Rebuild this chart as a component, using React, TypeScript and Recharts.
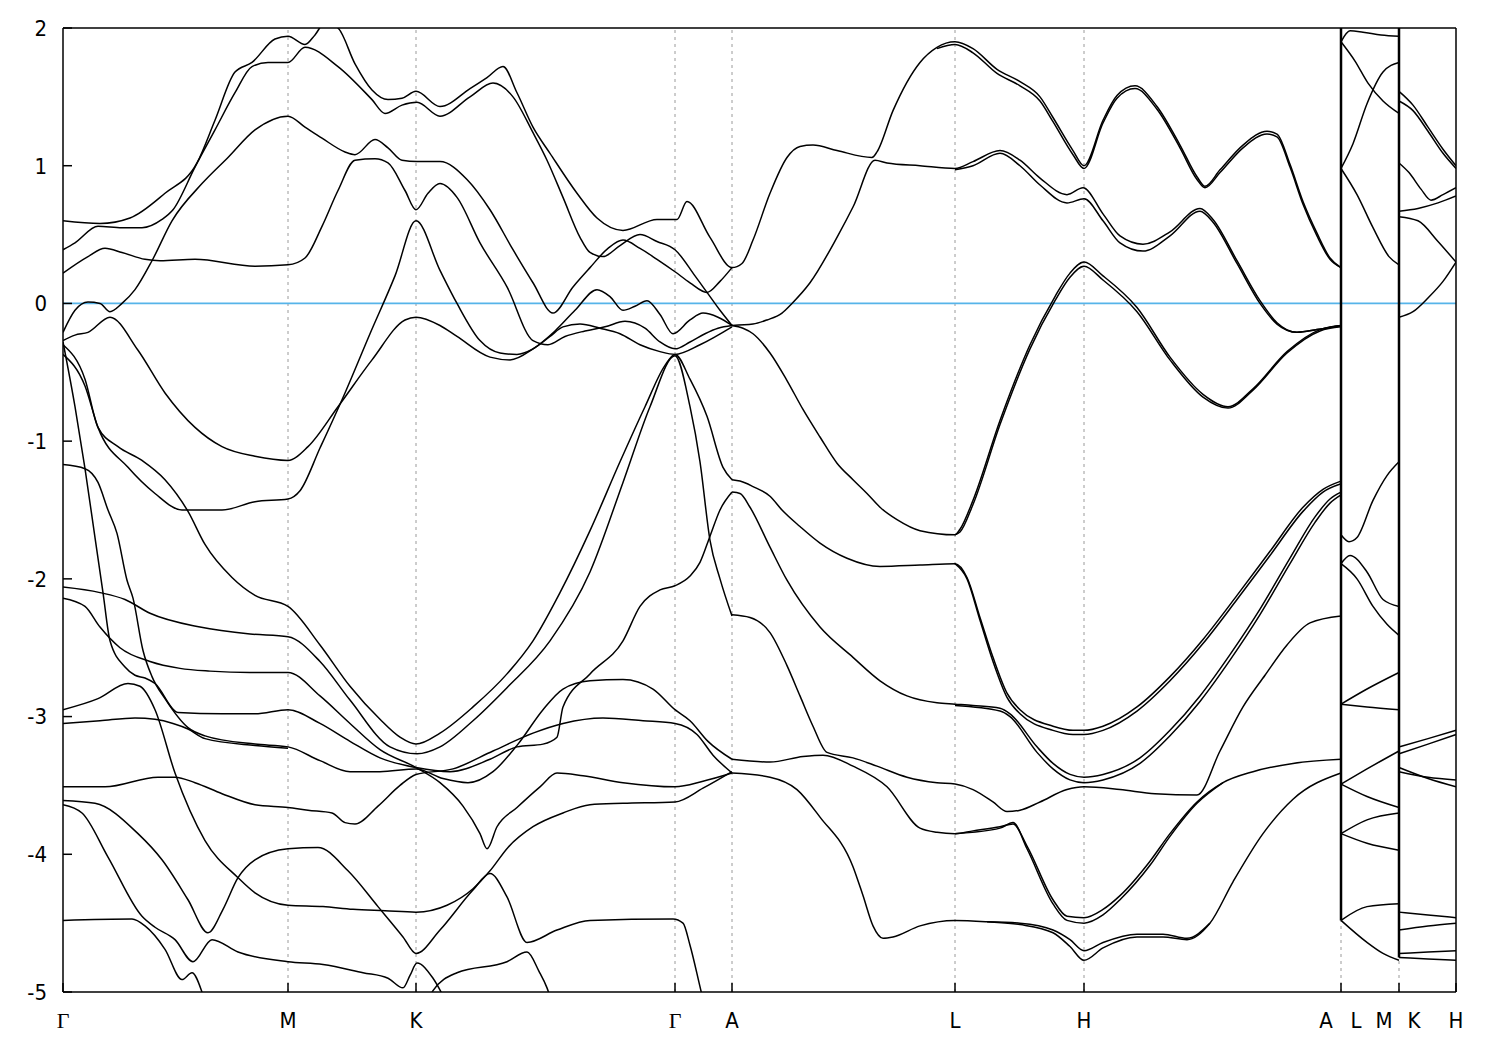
import React from 'react';
import { LineChart, Line, XAxis, YAxis, ReferenceLine } from 'recharts';

type Pt = [number, number];

// k-path coordinate (arbitrary path-length units) of the high-symmetry points
const K_POINTS = [0, 225, 353, 612, 669, 892, 1021, 1278, 1336, 1393];
const K_LABELS = ['Γ', 'M', 'K', 'Γ', 'A', 'L', 'H', 'A|L', 'M|K', 'H'];
const E_TICKS = [-5, -4, -3, -2, -1, 0, 1, 2];
const E_RANGE: [number, number] = [-5, 2];
const K_RANGE: [number, number] = [0, 1393];

// ---- bands above the Fermi level ----
const P1: Pt[] = [[0,.60],[37,.58],[67,.62],[102,.80],[134,1.02],[152,1.33],[172,1.68],[189,1.75],[212,1.92],[225,1.94],[242,1.88],[252,1.95],[262,2.04],[275,2.0],[292,1.74],[309,1.55],[325,1.48],[339,1.49],[353,1.54],[377,1.43],[407,1.56],[424,1.64],[440,1.72],[454,1.53],[470,1.28],[487,1.09],[514,.80],[534,.62],[560,.53],[594,.61],[614,.61],[624,.74],[647,.48],[669,.26],[679,.29],[690,.46],[707,.80],[724,1.06],[737,1.14],[750,1.15],[774,1.11],[809,1.06],[814,1.10],[830,1.40],[857,1.75],[874,1.86],[892,1.90],[910,1.85],[934,1.70],[957,1.61],[977,1.50],[990,1.35],[1010,1.11],[1021,1.0],[1040,1.33],[1054,1.51],[1072,1.58],[1094,1.43],[1117,1.15],[1134,.92],[1142,.85],[1157,.97],[1180,1.15],[1204,1.25],[1214,1.23],[1227,1.01],[1240,.74],[1254,.51],[1267,.33],[1278,.26]];
const P1B: Pt[] = [[874,1.85],[892,1.88],[910,1.82],[934,1.67],[957,1.58],[977,1.47],[990,1.32],[1010,1.08],[1021,.98],[1040,1.31],[1054,1.49],[1072,1.56],[1094,1.41],[1117,1.13],[1134,.90],[1142,.84],[1157,.95],[1180,1.13],[1204,1.23],[1214,1.21],[1227,.99],[1240,.72],[1254,.49],[1267,.32],[1278,.26]];
const P2: Pt[] = [[0,.39],[12,.44],[35,.56],[59,.55],[79,.55],[99,.61],[110,.68],[132,.99],[152,1.26],[172,1.53],[189,1.72],[205,1.75],[225,1.75],[242,1.86],[275,1.72],[309,1.48],[322,1.38],[339,1.44],[354,1.46],[377,1.36],[407,1.50],[430,1.60],[450,1.50],[470,1.24],[484,1.04],[500,.77],[517,.48],[527,.37],[540,.34],[557,.42],[577,.50],[594,.45],[612,.39],[632,.20],[644,.08],[657,-.05],[669,-.16]];
const P3: Pt[] = [[0,.22],[25,.34],[42,.40],[59,.37],[82,.32],[97,.31],[132,.32],[192,.27],[225,.28],[242,.33],[259,.56],[275,.82],[292,1.04],[312,1.05],[325,1.02],[342,.82],[353,.68],[365,.80],[377,.87],[394,.77],[417,.44],[444,.12],[470,-.27],[485,-.30],[502,-.24],[522,-.20],[542,-.17],[562,-.13],[582,-.18],[597,-.28],[612,-.33],[627,-.28],[642,-.22],[655,-.18],[669,-.16]];
const P4: Pt[] = [[0,-.21],[12,-.05],[25,.01],[37,.0],[47,-.06],[59,.0],[72,.1],[89,.31],[109,.60],[139,.87],[165,1.06],[192,1.26],[225,1.36],[242,1.28],[259,1.20],[282,1.10],[292,1.08],[312,1.19],[325,1.13],[339,1.04],[354,1.03],[377,1.03],[404,.90],[427,.68],[450,.39],[470,.15],[490,-.07],[510,.12],[527,.26],[545,.40],[560,.46],[577,.40],[594,.32],[612,.23],[627,.15],[644,.08],[657,.16],[669,.26]];
const P5: Pt[] = [[0,-.27],[12,-.23],[25,-.21],[47,-.10],[75,-.34],[102,-.65],[132,-.90],[159,-1.04],[192,-1.11],[225,-1.14],[245,-1.04],[275,-.75],[309,-.41],[342,-.12],[353,-.10],[377,-.16],[394,-.24],[427,-.39],[447,-.41],[470,-.33],[492,-.20],[512,-.05],[534,.10],[547,.05],[560,-.05],[572,-.02],[584,.02],[597,-.08],[610,-.22],[627,-.12],[640,-.07],[655,-.10],[669,-.16]];
const U2: Pt[] = [[669,-.16],[690,-.15],[704,-.12],[719,-.07],[729,.0],[747,.15],[774,.48],[790,.70],[812,1.04],[824,1.02],[857,1.0],[892,.98],[910,1.03],[937,1.11],[957,1.04],[977,.91],[1004,.79],[1020,.84],[1040,.65],[1057,.49],[1080,.43],[1107,.52],[1137,.69],[1150,.61],[1174,.31],[1197,.02],[1214,-.14],[1234,-.21],[1254,-.19],[1278,-.16]];
const U2B: Pt[] = [[892,.97],[910,1.0],[937,1.09],[957,1.0],[977,.86],[1004,.73],[1021,.76],[1040,.60],[1057,.44],[1080,.38],[1107,.49],[1137,.67],[1150,.59],[1174,.29],[1197,.0],[1214,-.15],[1234,-.21],[1254,-.19],[1278,-.16]];
const V1: Pt[] = [[669,-.16],[680,-.18],[690,-.22],[707,-.36],[724,-.56],[740,-.77],[757,-.97],[774,-1.16],[790,-1.28],[804,-1.38],[817,-1.48],[834,-1.57],[857,-1.65],[892,-1.68],[897,-1.64],[910,-1.43],[937,-.85],[967,-.30],[992,.05],[1007,.22],[1021,.30],[1040,.20],[1074,-.03],[1107,-.39],[1140,-.66],[1165,-.75],[1190,-.62],[1224,-.35],[1257,-.19],[1278,-.16]];
const V1B: Pt[] = [[892,-1.68],[897,-1.66],[910,-1.46],[937,-.88],[967,-.33],[992,.02],[1007,.19],[1021,.27],[1040,.17],[1074,-.06],[1107,-.41],[1140,-.68],[1165,-.76],[1190,-.63],[1224,-.36],[1257,-.20],[1278,-.17]];

// ---- valence bands ----
const R1: Pt[] = [[0,-.37],[22,-.60],[35,-.90],[65,-1.19],[92,-1.38],[119,-1.50],[159,-1.50],[192,-1.44],[225,-1.42],[237,-1.36],[257,-1.05],[282,-.65],[307,-.22],[332,.20],[353,.60],[377,.24],[394,.0],[417,-.27],[437,-.36],[454,-.37],[470,-.33],[487,-.24],[500,-.17],[517,-.15],[537,-.18],[557,-.22],[577,-.30],[597,-.35],[612,-.37],[637,-.30],[669,-.17]];
const R2: Pt[] = [[0,-.30],[22,-.55],[35,-.90],[55,-1.04],[79,-1.14],[102,-1.28],[125,-1.51],[142,-1.75],[169,-1.99],[192,-2.12],[225,-2.2],[257,-2.48],[287,-2.78],[317,-3.02],[337,-3.15],[353,-3.2],[377,-3.12],[410,-2.93],[444,-2.69],[470,-2.45],[497,-2.1],[527,-1.65],[557,-1.15],[582,-.75],[602,-.45],[612,-.37],[627,-.55],[644,-.82],[660,-1.19],[669,-1.28]];
const R5: Pt[] = [[0,-2.06],[37,-2.10],[62,-2.15],[87,-2.25],[137,-2.35],[187,-2.40],[225,-2.42],[257,-2.6],[287,-2.88],[327,-3.22],[354,-3.27],[377,-3.22],[410,-3.03],[444,-2.79],[487,-2.45],[527,-1.95],[560,-1.3],[587,-.75],[612,-.38],[627,-.75],[637,-1.15],[647,-1.72],[657,-2.0],[669,-2.27]];
const R6: Pt[] = [[0,-2.14],[22,-2.2],[37,-2.35],[57,-2.5],[87,-2.6],[117,-2.65],[147,-2.67],[187,-2.68],[225,-2.68],[257,-2.85],[287,-3.05],[317,-3.24],[353,-3.37],[377,-3.48],[400,-3.65],[417,-3.85],[424,-3.96],[434,-3.80],[454,-3.66],[477,-3.51],[494,-3.41],[520,-3.43],[560,-3.48],[612,-3.51],[640,-3.47],[669,-3.41]];
const S7: Pt[] = [[0,-.28],[12,-.75],[22,-1.2],[32,-1.7],[40,-2.1],[47,-2.45],[62,-2.64],[72,-2.70],[82,-2.72],[92,-2.76],[115,-2.97],[159,-2.98],[192,-2.98],[225,-2.95],[257,-3.05],[287,-3.18],[317,-3.30],[353,-3.37],[387,-3.40],[427,-3.31],[454,-3.22],[480,-3.2],[494,-3.15],[500,-2.93],[527,-2.69],[560,-2.45],[577,-2.2],[597,-2.08],[612,-2.05],[627,-1.98],[637,-1.88],[647,-1.69],[657,-1.5],[669,-1.37]];
const S9: Pt[] = [[0,-1.17],[22,-1.20],[35,-1.30],[45,-1.50],[54,-1.67],[64,-2.01],[70,-2.14],[80,-2.52],[89,-2.71],[102,-2.87],[125,-3.08],[142,-3.14],[192,-3.20],[225,-3.22],[257,-3.32],[287,-3.40],[317,-3.40],[353,-3.38],[380,-3.45],[405,-3.48],[430,-3.40],[455,-3.2],[480,-2.95],[500,-2.80],[527,-2.74],[560,-2.73],[590,-2.80],[612,-2.95],[627,-3.03],[645,-3.18],[669,-3.31]];
const S6: Pt[] = [[0,-3.05],[37,-3.03],[72,-3.01],[92,-3.02],[110,-3.05],[125,-3.09],[142,-3.16],[192,-3.21],[225,-3.23]];
const S2: Pt[] = [[0,-3.51],[42,-3.51],[95,-3.44],[112,-3.44],[132,-3.48],[159,-3.56],[192,-3.64],[225,-3.66],[245,-3.68],[269,-3.70],[282,-3.77],[292,-3.78],[315,-3.65],[337,-3.5],[353,-3.42],[390,-3.38],[430,-3.25],[470,-3.12],[500,-3.05],[540,-3.01],[580,-3.03],[612,-3.05],[634,-3.13],[650,-3.28],[669,-3.41]];
const S1: Pt[] = [[0,-2.95],[35,-2.87],[65,-2.76],[77,-2.78],[92,-2.95],[112,-3.41],[142,-3.90],[175,-4.17],[192,-4.28],[225,-4.37],[260,-4.38],[290,-4.40],[322,-4.41],[353,-4.42],[384,-4.37],[410,-4.25],[427,-4.12],[445,-3.95],[470,-3.8],[500,-3.7],[527,-3.64],[560,-3.63],[612,-3.62],[640,-3.52],[669,-3.40]];
const S3: Pt[] = [[0,-3.61],[32,-3.63],[75,-3.85],[99,-4.04],[125,-4.33],[145,-4.57],[160,-4.40],[175,-4.17],[192,-4.04],[225,-3.96],[255,-3.95],[285,-4.12],[315,-4.38],[340,-4.6],[353,-4.72],[377,-4.55],[410,-4.26],[427,-4.14],[444,-4.31],[464,-4.64],[494,-4.55],[527,-4.48],[610,-4.47],[620,-4.5],[627,-4.66],[640,-5.05],[650,-5.3]];
const S4: Pt[] = [[0,-3.64],[19,-3.70],[45,-4.02],[79,-4.45],[92,-4.53],[112,-4.62],[130,-4.78],[149,-4.62],[175,-4.71],[225,-4.78],[260,-4.80],[300,-4.86],[325,-4.9],[340,-4.97],[347,-4.88],[354,-4.79],[370,-4.9],[385,-5.1]];
const S5: Pt[] = [[0,-4.48],[69,-4.47],[82,-4.52],[102,-4.69],[119,-4.91],[129,-4.86],[139,-5.0],[147,-5.2]];
const S10: Pt[] = [[360,-5.2],[370,-4.99],[394,-4.86],[444,-4.78],[464,-4.71],[476,-4.85],[484,-4.97],[490,-5.1]];

// A -> L -> H -> A, lower part
const LA: Pt[] = [[669,-1.28],[677,-1.29],[690,-1.33],[707,-1.40],[719,-1.50],[737,-1.62],[757,-1.74],[784,-1.85],[817,-1.91],[857,-1.90],[892,-1.89],[904,-1.99],[917,-2.28],[930,-2.57],[944,-2.83],[957,-2.95],[990,-3.07],[1010,-3.10],[1021,-3.10],[1040,-3.07],[1074,-2.93],[1107,-2.71],[1140,-2.44],[1174,-2.12],[1207,-1.80],[1240,-1.48],[1260,-1.35],[1278,-1.29]];
const LA2: Pt[] = [[892,-1.89],[904,-2.0],[917,-2.30],[930,-2.60],[944,-2.86],[957,-2.98],[990,-3.10],[1010,-3.13],[1021,-3.13],[1040,-3.10],[1074,-2.96],[1107,-2.74],[1140,-2.47],[1174,-2.15],[1207,-1.83],[1240,-1.51],[1260,-1.37],[1278,-1.31]];
const LB: Pt[] = [[669,-1.37],[677,-1.38],[687,-1.48],[707,-1.77],[724,-2.01],[757,-2.35],[790,-2.57],[817,-2.74],[844,-2.85],[874,-2.90],[892,-2.91],[910,-2.92],[937,-2.94],[947,-2.98],[974,-3.22],[990,-3.34],[1007,-3.42],[1021,-3.44],[1040,-3.42],[1077,-3.3],[1107,-3.1],[1137,-2.85],[1167,-2.55],[1197,-2.22],[1227,-1.85],[1252,-1.55],[1267,-1.42],[1278,-1.37]];
const LB2: Pt[] = [[892,-2.92],[937,-2.96],[947,-3.0],[974,-3.26],[990,-3.38],[1007,-3.46],[1021,-3.48],[1040,-3.46],[1077,-3.34],[1107,-3.14],[1137,-2.89],[1167,-2.59],[1197,-2.26],[1227,-1.89],[1252,-1.59],[1267,-1.45],[1278,-1.39]];
const LC: Pt[] = [[669,-2.26],[687,-2.28],[707,-2.39],[724,-2.63],[737,-2.85],[750,-3.07],[764,-3.26],[790,-3.30],[814,-3.36],[844,-3.44],[874,-3.48],[892,-3.49],[910,-3.53],[930,-3.62],[944,-3.69],[957,-3.68],[977,-3.62],[1004,-3.53],[1021,-3.51],[1057,-3.53],[1092,-3.56],[1134,-3.57],[1157,-3.25],[1180,-2.93],[1202,-2.7],[1224,-2.48],[1247,-2.32],[1278,-2.27]];
const LF: Pt[] = [[669,-3.31],[707,-3.33],[740,-3.29],[760,-3.28],[790,-3.36],[824,-3.51],[857,-3.81],[874,-3.84],[892,-3.85],[910,-3.83],[937,-3.80],[950,-3.78],[964,-3.94],[990,-4.33],[1004,-4.45],[1021,-4.46],[1040,-4.40],[1057,-4.3],[1087,-4.05],[1107,-3.85],[1134,-3.62],[1160,-3.48],[1190,-3.40],[1230,-3.34],[1278,-3.31]];
const LF2: Pt[] = [[892,-3.85],[937,-3.81],[950,-3.77],[964,-3.96],[990,-4.36],[1004,-4.48],[1021,-4.50],[1040,-4.44],[1057,-4.33],[1087,-4.08],[1107,-3.87],[1134,-3.63],[1160,-3.48]];
const LE: Pt[] = [[669,-3.41],[707,-3.44],[734,-3.53],[757,-3.73],[790,-4.09],[800,-4.30],[810,-4.52],[820,-4.61],[830,-4.60],[857,-4.52],[892,-4.48],[924,-4.49],[957,-4.51],[990,-4.57],[1007,-4.67],[1021,-4.77],[1040,-4.68],[1074,-4.60],[1100,-4.60],[1124,-4.62],[1147,-4.5],[1170,-4.2],[1200,-3.85],[1230,-3.6],[1278,-3.41]];
const LE2: Pt[] = [[924,-4.49],[957,-4.50],[990,-4.55],[1007,-4.62],[1021,-4.70],[1040,-4.64],[1074,-4.58],[1100,-4.58],[1124,-4.61],[1147,-4.5]];

// L -> M (after the A|L break)
const LM: Pt[][] = [
  [[1278,1.90],[1287,1.98],[1300,1.97],[1318,1.95],[1336,1.94]],
  [[1278,1.90],[1292,1.76],[1305,1.60],[1320,1.47],[1336,1.38]],
  [[1278,.98],[1290,1.16],[1304,1.45],[1320,1.68],[1336,1.75]],
  [[1278,.98],[1294,.79],[1310,.55],[1326,.34],[1336,.28]],
  [[1278,-1.68],[1286,-1.73],[1294,-1.70],[1310,-1.43],[1324,-1.25],[1336,-1.15]],
  [[1278,-1.89],[1287,-1.83],[1304,-1.95],[1320,-2.15],[1336,-2.2]],
  [[1278,-1.89],[1294,-2.0],[1310,-2.2],[1324,-2.33],[1336,-2.41]],
  [[1278,-2.91],[1304,-2.80],[1336,-2.68]],
  [[1278,-2.91],[1304,-2.93],[1336,-2.95]],
  [[1278,-3.49],[1304,-3.38],[1336,-3.25]],
  [[1278,-3.49],[1304,-3.58],[1336,-3.66]],
  [[1278,-3.85],[1304,-3.75],[1336,-3.70]],
  [[1278,-3.85],[1304,-3.92],[1336,-3.97]],
  [[1278,-4.48],[1304,-4.38],[1336,-4.36]],
  [[1278,-4.48],[1304,-4.64],[1320,-4.72],[1336,-4.77]],
];

// K -> H (after the M|K break)
const KH: Pt[][] = [
  [[1336,1.54],[1350,1.44],[1365,1.28],[1380,1.12],[1393,1.0]],
  [[1336,1.47],[1350,1.40],[1365,1.25],[1380,1.09],[1393,.98]],
  [[1336,1.02],[1346,.95],[1358,.83],[1368,.75],[1380,.79],[1393,.84]],
  [[1336,.67],[1355,.69],[1375,.73],[1393,.78]],
  [[1336,.63],[1355,.60],[1375,.45],[1393,.30]],
  [[1336,-.10],[1350,-.06],[1365,.04],[1380,.16],[1393,.30]],
  [[1336,-3.22],[1365,-3.16],[1393,-3.10]],
  [[1336,-3.27],[1365,-3.20],[1393,-3.13]],
  [[1336,-3.37],[1365,-3.45],[1393,-3.51]],
  [[1336,-3.40],[1365,-3.44],[1393,-3.46]],
  [[1336,-4.42],[1365,-4.44],[1393,-4.46]],
  [[1336,-4.55],[1365,-4.52],[1393,-4.50]],
  [[1336,-4.72],[1365,-4.71],[1393,-4.70]],
  [[1336,-4.75],[1365,-4.76],[1393,-4.77]],
];

// energy span of the band jumps drawn at the two path breaks
const AL_JUMP: Pt[] = [[1278, 2.4], [1278, -4.48]];
const MK_JUMP: Pt[] = [[1336, 2.4], [1336, -4.75]];

const BANDS: Pt[][] = [
  P1, P1B, P2, P3, P4, P5, U2, U2B, V1, V1B,
  R1, R2, R5, R6, S7, S9, S6, S2, S1, S3, S4, S5, S10,
  LA, LA2, LB, LB2, LC, LF, LF2, LE, LE2,
  ...LM, ...KH,
];

const rows = (pts: Pt[]) => pts.map(([k, e]) => ({ k, e }));

const FONT = "'Liberation Sans Narrow', 'DejaVu Sans Condensed', 'Liberation Sans', Arial, sans-serif";

const KTick = (props: any) => {
  const { x, y, payload } = props;
  const label = K_LABELS[K_POINTS.indexOf(payload.value)] ?? '';
  const parts = label.split('|');
  const offsets = parts.length === 2 ? [-15, 15] : [0];
  return (
    <g>
      {parts.map((p, i) => (
        <text
          key={i}
          x={x + offsets[i]}
          y={y}
          dy="0.71em"
          textAnchor="middle"
          fontSize={22}
          fontFamily={p === 'Γ' ? "'Liberation Serif', 'DejaVu Serif', serif" : FONT}
          fill="#000"
        >
          {p}
        </text>
      ))}
    </g>
  );
};

const ETick = (props: any) => {
  const { x, y, payload } = props;
  return (
    <text x={x} y={y} dy="0.36em" textAnchor="end" fontSize={22} fontFamily={FONT} fill="#000">
      {payload.value}
    </text>
  );
};

export default function App() {
  return (
    <div style={{ position: 'absolute', left: 0, top: 0, background: '#fff' }}>
      <LineChart width={1500} height={1050} margin={{ top: 27, right: 43, bottom: 8, left: 13 }}>
        <XAxis
          xAxisId="b" type="number" dataKey="k" domain={K_RANGE} ticks={K_POINTS} interval={0}
          allowDataOverflow height={50} tickSize={-9} tickMargin={29}
          tick={<KTick />} stroke="#000" axisLine={{ stroke: '#000', strokeWidth: 1.5 }}
          tickLine={{ stroke: '#000', strokeWidth: 1.5 }}
        />
        <XAxis
          xAxisId="t" orientation="top" type="number" dataKey="k" domain={K_RANGE} ticks={K_POINTS} interval={0}
          allowDataOverflow height={1} tickSize={-9} tick={false}
          axisLine={{ stroke: '#000', strokeWidth: 1.5 }} tickLine={{ stroke: '#000', strokeWidth: 1.5 }}
        />
        <YAxis
          yAxisId="l" type="number" domain={E_RANGE} ticks={E_TICKS} interval={0} allowDataOverflow
          width={50} tickSize={-9} tickMargin={25} tick={<ETick />}
          axisLine={{ stroke: '#000', strokeWidth: 1.5 }} tickLine={{ stroke: '#000', strokeWidth: 1.5 }}
        />
        <YAxis
          yAxisId="r" orientation="right" type="number" domain={E_RANGE} ticks={E_TICKS} interval={0}
          allowDataOverflow width={1} tickSize={-9} tick={false}
          axisLine={{ stroke: '#000', strokeWidth: 1.5 }} tickLine={{ stroke: '#000', strokeWidth: 1.5 }}
        />
        {K_POINTS.slice(1, -1).map((k) => (
          <ReferenceLine key={k} xAxisId="b" yAxisId="l" x={k} stroke="#9a9a9a" strokeDasharray="3 4" strokeWidth={1} />
        ))}
        <ReferenceLine xAxisId="b" yAxisId="l" y={0} stroke="#56b4e9" strokeWidth={1.8} />
        {BANDS.map((b, i) => (
          <Line
            key={i} xAxisId="b" yAxisId="l" data={rows(b)} dataKey="e" type="monotone"
            stroke="#000" strokeWidth={1.5} dot={false} activeDot={false} isAnimationActive={false}
          />
        ))}
        {[AL_JUMP, MK_JUMP].map((b, i) => (
          <Line
            key={`j${i}`} xAxisId="b" yAxisId="l" data={rows(b)} dataKey="e" type="linear"
            stroke="#000" strokeWidth={2.5} dot={false} activeDot={false} isAnimationActive={false}
          />
        ))}
      </LineChart>
    </div>
  );
}
